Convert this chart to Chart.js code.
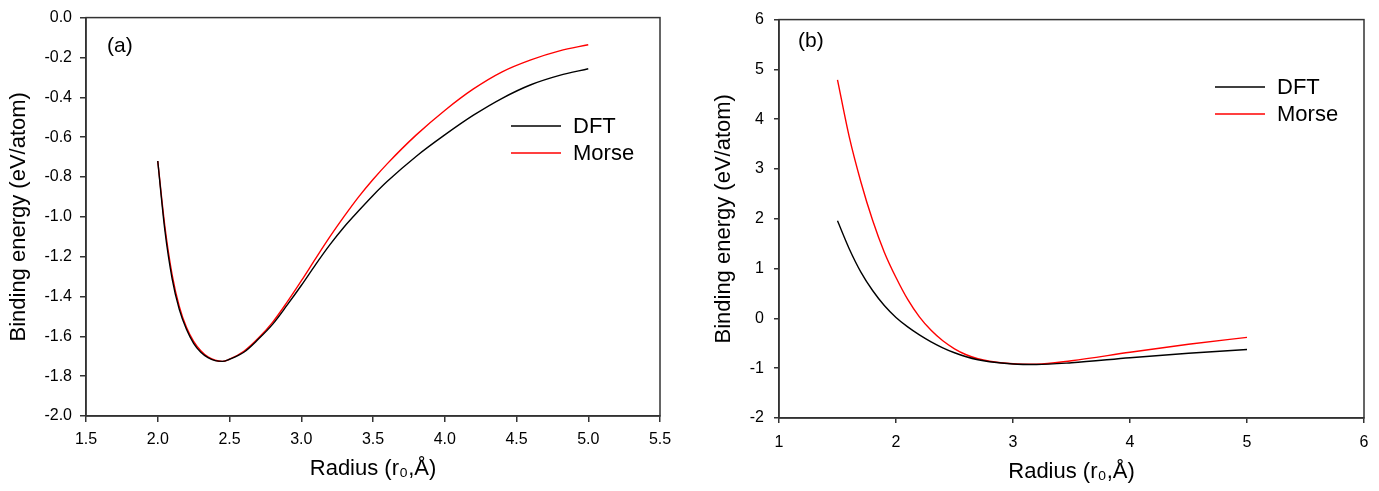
<!DOCTYPE html>
<html>
<head>
<meta charset="utf-8">
<script src="https://cdn.jsdelivr.net/npm/chart.js@4/dist/chart.umd.min.js"></script>
<style>
html, body { margin: 0; padding: 0; background: #fff; }
.painel { position: absolute; top: 0; height: 491px; }
#painelA { left: 0; width: 690px; }
#painelB { left: 690px; width: 689px; }
</style>
</head>
<body>
<div class="painel" id="painelA"><canvas id="graficoA"></canvas></div>
<div class="painel" id="painelB"><canvas id="graficoB"></canvas></div>
<script>
// Painel (a)
const raioA = [2.0, 2.05, 2.1, 2.15, 2.2, 2.25, 2.3, 2.35, 2.4, 2.45, 2.5, 2.6, 2.7, 2.8, 2.9, 3.0,
               3.1, 3.2, 3.3, 3.4, 3.5, 3.6, 3.8, 4.0, 4.2, 4.4, 4.6, 4.8, 5.0];
const dftA   = [-0.72, -1.07, -1.31, -1.465, -1.565, -1.635, -1.68, -1.707, -1.722, -1.726, -1.715, -1.68,
                -1.615, -1.54, -1.445, -1.345, -1.24, -1.14, -1.05, -0.97, -0.893, -0.822,
                -0.697, -0.589, -0.49, -0.405, -0.337, -0.29, -0.257];
const morseA = [-0.72, -1.05, -1.29, -1.45, -1.555, -1.625, -1.672, -1.703, -1.72, -1.726, -1.715, -1.675,
                -1.61, -1.53, -1.43, -1.322, -1.21, -1.10, -0.997, -0.90, -0.813, -0.733,
                -0.59, -0.466, -0.358, -0.272, -0.212, -0.167, -0.136];

// Painel (b)
const raioB = [1.5, 1.6, 1.7, 1.8, 1.9, 2.0, 2.1, 2.2, 2.3, 2.4, 2.5, 2.6, 2.7, 2.8, 3.0, 3.2,
               3.5, 4.0, 4.5, 5.0];
const dftB   = [1.96, 1.40, 0.93, 0.56, 0.26, 0.02, -0.17, -0.33, -0.47, -0.59, -0.69, -0.77,
                -0.83, -0.87, -0.915, -0.925, -0.89, -0.79, -0.70, -0.625];
const morseB = [4.79, 3.65, 2.74, 1.97, 1.33, 0.82, 0.38, 0.03, -0.24, -0.45, -0.61, -0.73,
                -0.81, -0.86, -0.91, -0.92, -0.85, -0.68, -0.52, -0.38];

const SERIES = ['DFT', 'Morse'];
const CORES = ['#000000', '#ff0000'];
const TITULO_X = 'Radius (r\u2080,\u00c5)';
const TITULO_Y = 'Binding energy (eV/atom)';
const FONTE = 'Arial, "Liberation Sans", sans-serif';
const COR_EIXO = '#333333';

function pontos(xs, ys) {
    return xs.map((x, i) => ({ x: x, y: ys[i] }));
}

// moldura em volta da área do gráfico
const moldura = {
    id: 'moldura',
    afterDraw(chart) {
        const a = chart.chartArea;
        const ctx = chart.ctx;
        ctx.save();
        ctx.strokeStyle = COR_EIXO;
        ctx.lineWidth = 1.5;
        ctx.strokeRect(a.left, a.top, a.right - a.left, a.bottom - a.top);
        ctx.restore();
    }
};

// rótulo (a)/(b) e legenda dentro do gráfico
const anotacoes = {
    id: 'anotacoes',
    afterDraw(chart, args, opts) {
        const ctx = chart.ctx;
        ctx.save();
        ctx.fillStyle = '#000';
        ctx.font = '21px ' + FONTE;
        ctx.textBaseline = 'middle';
        ctx.textAlign = 'left';
        ctx.fillText(opts.rotulo, opts.rotuloX, opts.rotuloY);

        ctx.font = '22px ' + FONTE;
        chart.data.datasets.forEach((ds, i) => {
            const y = opts.legY + i * opts.legPasso;
            ctx.strokeStyle = ds.borderColor;
            ctx.lineWidth = 1.5;
            ctx.beginPath();
            ctx.moveTo(opts.legX, y);
            ctx.lineTo(opts.legX + 50, y);
            ctx.stroke();
            ctx.fillText(ds.label, opts.legX + 62, y + 1);
        });
        ctx.restore();
    }
};

function criarGrafico(id, xs, series, cfg) {
    const ctx = document.getElementById(id).getContext('2d');
    return new Chart(ctx, {
        type: 'line',
        data: {
            datasets: series.map((ys, i) => ({
                label: SERIES[i],
                data: pontos(xs, ys),
                borderColor: CORES[i],
                borderWidth: 1.4,
                pointRadius: 0,
                fill: false,
                cubicInterpolationMode: 'monotone'
            }))
        },
        options: {
            responsive: true,
            maintainAspectRatio: false,
            animation: false,
            layout: { padding: { left: 0, right: cfg.padDir, top: cfg.padTopo, bottom: 0 } },
            plugins: {
                legend: { display: false },
                tooltip: { enabled: false },
                anotacoes: cfg.anot
            },
            scales: {
                x: {
                    type: 'linear',
                    min: cfg.xMin, max: cfg.xMax,
                    border: { display: true, color: COR_EIXO, width: 1.5 },
                    grid: { display: true, drawOnChartArea: false, drawTicks: true,
                            tickLength: cfg.tick, color: COR_EIXO, lineWidth: 1.5 },
                    ticks: {
                        stepSize: cfg.xPasso, color: '#000', padding: cfg.xTickPad,
                        font: { family: FONTE, size: 16 },
                        callback: cfg.xFmt
                    },
                    title: { display: true, text: TITULO_X, color: '#000',
                             font: { family: FONTE, size: 22 },
                             padding: { top: 0, bottom: cfg.xTitPad } },
                    afterFit: s => { s.height = cfg.alturaX; }
                },
                y: {
                    type: 'linear',
                    min: cfg.yMin, max: cfg.yMax,
                    border: { display: true, color: COR_EIXO, width: 1.5 },
                    grid: { display: true, drawOnChartArea: false, drawTicks: true,
                            tickLength: cfg.tick, color: COR_EIXO, lineWidth: 1.5 },
                    ticks: {
                        stepSize: cfg.yPasso, color: '#000', padding: cfg.yTickPad,
                        font: { family: FONTE, size: 16 },
                        callback: cfg.yFmt
                    },
                    title: { display: true, text: TITULO_Y, color: '#000',
                             font: { family: FONTE, size: 22 },
                             padding: { top: cfg.yTitPad, bottom: 0 } },
                    afterFit: s => { s.width = cfg.larguraY; }
                }
            }
        },
        plugins: [moldura, anotacoes]
    });
}

const umaCasa = v => Number(v).toFixed(1);
const inteiro = v => String(Math.round(v));

criarGrafico('graficoA', raioA, [dftA, morseA], {
    xMin: 1.5, xMax: 5.5, xPasso: 0.5, yMin: -2.0, yMax: 0.0, yPasso: 0.2,
    xFmt: umaCasa, yFmt: umaCasa,
    larguraY: 86, alturaX: 75, padDir: 30, padTopo: 13,
    tick: 6, xTickPad: 8, yTickPad: 8, yTitPad: 6, xTitPad: 9,
    anot: { rotulo: '(a)', rotuloX: 107, rotuloY: 46, legX: 511, legY: 126, legPasso: 27 }
});

criarGrafico('graficoB', raioB, [dftB, morseB], {
    xMin: 1, xMax: 6, xPasso: 1, yMin: -2, yMax: 6, yPasso: 1,
    xFmt: inteiro, yFmt: inteiro,
    larguraY: 89, alturaX: 73, padDir: 15, padTopo: 18,
    tick: 5, xTickPad: 10, yTickPad: 10, yTitPad: 21, xTitPad: 6,
    anot: { rotulo: '(b)', rotuloX: 108, rotuloY: 41, legX: 525, legY: 87, legPasso: 27 }
});
</script>
</body>
</html>
